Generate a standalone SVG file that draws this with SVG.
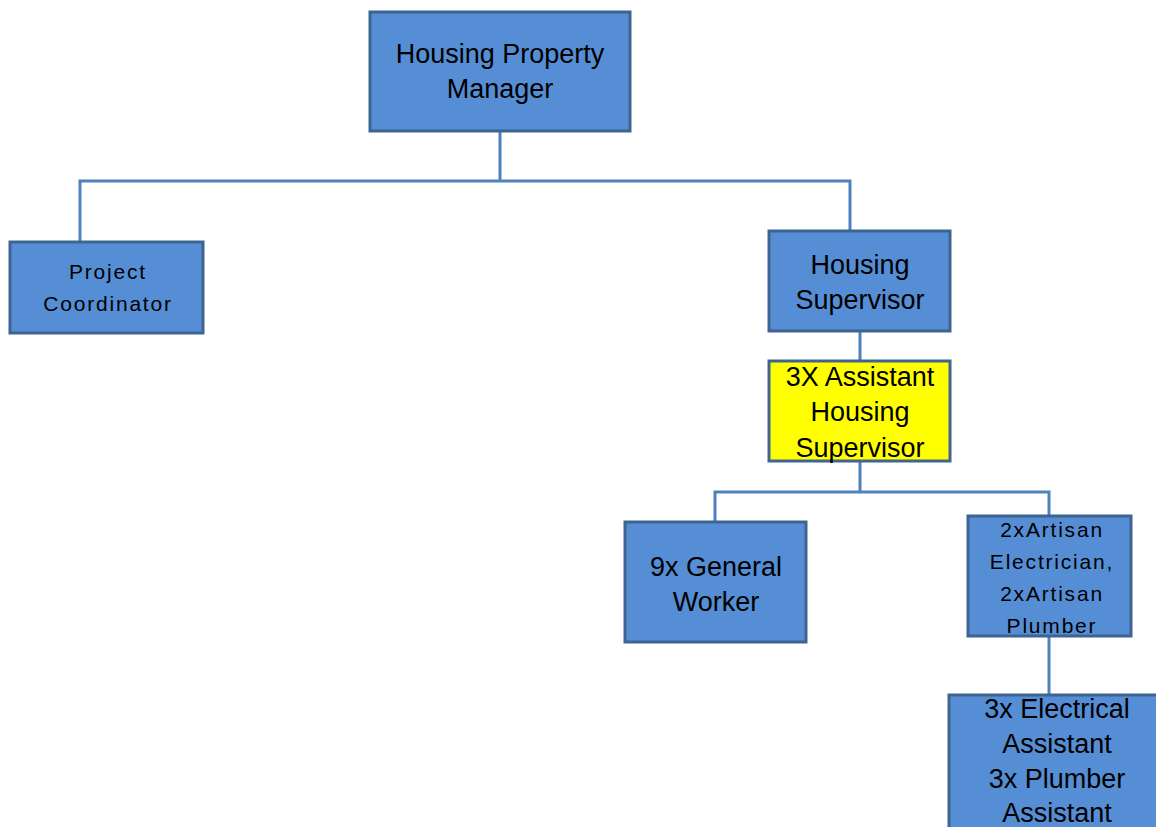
<svg xmlns="http://www.w3.org/2000/svg" width="1156" height="827" viewBox="0 0 1156 827">
<style>
.box{fill:#558ED5;stroke:#3E6591;stroke-width:3}
.yel{fill:#FFFF00;stroke:#3E6591;stroke-width:3}
.t{font-family:"Liberation Sans",Arial,sans-serif;font-size:27px;fill:#000;text-anchor:middle}
.s{font-family:"Liberation Sans",Arial,sans-serif;font-size:21px;fill:#000;text-anchor:middle;letter-spacing:1.8px}
.c{fill:none;stroke:#4F81BD;stroke-width:3}
</style>
<rect width="1156" height="827" fill="#fff"/>
<g id="connectors">
<path class="c" d="M500,132 V181 M80,242 V181 H850 V231"/>
<path class="c" d="M860,331 V361"/>
<path class="c" d="M860,461 V492 M715,522 V492 H1049 V516"/>
<path class="c" d="M1049,636 V695"/>
</g>
<g id="manager">
<rect class="box" x="370" y="12" width="260" height="119"/>
<text class="t" x="500" y="63">Housing Property</text>
<text class="t" x="500" y="98">Manager</text>
</g>
<g id="coordinator">
<rect class="box" x="10" y="242" width="193" height="91"/>
<text class="s" x="108" y="279">Project</text>
<text class="s" x="108" y="311">Coordinator</text>
</g>
<g id="supervisor">
<rect class="box" x="769" y="231" width="181" height="100"/>
<text class="t" x="860" y="274">Housing</text>
<text class="t" x="860" y="309">Supervisor</text>
</g>
<g id="assistant">
<rect class="yel" x="769" y="361" width="181" height="100"/>
<text class="t" x="860" y="386">3X Assistant</text>
<text class="t" x="860" y="421">Housing</text>
<text class="t" x="860" y="457">Supervisor</text>
</g>
<g id="general">
<rect class="box" x="625" y="522" width="181" height="120"/>
<text class="t" x="716" y="576">9x General</text>
<text class="t" x="716" y="611">Worker</text>
</g>
<g id="artisan">
<rect class="box" x="968" y="516" width="163" height="120"/>
<text class="s" x="1052" y="537">2xArtisan</text>
<text class="s" x="1052" y="569">Electrician,</text>
<text class="s" x="1052" y="601">2xArtisan</text>
<text class="s" x="1052" y="633">Plumber</text>
</g>
<g id="assistants">
<rect class="box" x="949" y="695" width="212" height="140"/>
<text class="t" x="1057" y="718">3x Electrical</text>
<text class="t" x="1057" y="753">Assistant</text>
<text class="t" x="1057" y="788">3x Plumber</text>
<text class="t" x="1057" y="822">Assistant</text>
</g>
</svg>
